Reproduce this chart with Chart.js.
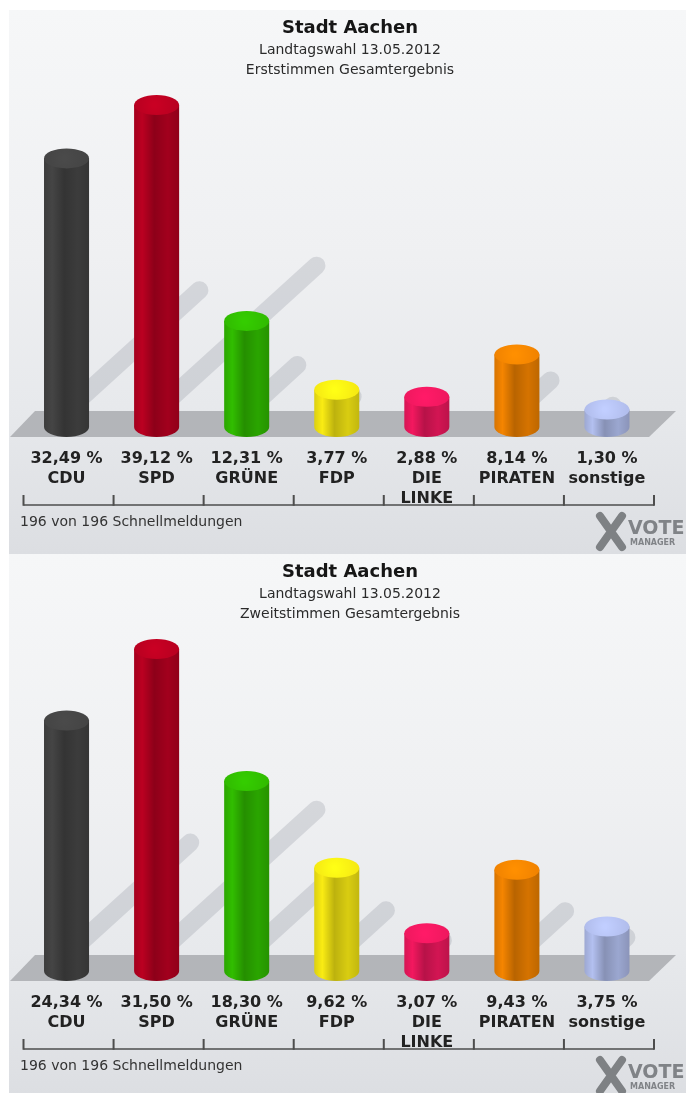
<!DOCTYPE html>
<html><head><meta charset="utf-8">
<script src="https://cdn.jsdelivr.net/npm/chart.js@4.4.0/dist/chart.umd.min.js"></script>
<style>
html,body{margin:0;padding:0;background:#fff;width:686px;height:1093px;overflow:hidden;position:relative;}
.panel{position:absolute;left:9px;width:677px;height:544px;}
#p1{top:10px}
#p2{top:554px}
canvas{display:block}
</style></head><body>
<div class="panel" id="p1"><canvas id="c1" width="677" height="544"></canvas></div>
<div class="panel" id="p2"><canvas id="c2" width="677" height="544"></canvas></div>
<script>
// ---- data ----
const parties = ['CDU', 'SPD', 'GRÜNE', 'FDP', 'DIE LINKE', 'PIRATEN', 'sonstige'];
const partyLabelLines = [['CDU'], ['SPD'], ['GRÜNE'], ['FDP'], ['DIE', 'LINKE'], ['PIRATEN'], ['sonstige']];
const erststimmen = [32.49, 39.12, 12.31, 3.77, 2.88, 8.14, 1.30];
const zweitstimmen = [24.34, 31.50, 18.30, 9.62, 3.07, 9.43, 3.75];
const partyColors = ['#414141', '#b0001f', '#2eb300', '#ecdf12', '#e5175a', '#e77d00', '#a9b5e2'];
const titleText = 'Stadt Aachen';
const subtitleLine1 = 'Landtagswahl 13.05.2012';
const subtitleLine2 = ['Erststimmen Gesamtergebnis', 'Zweitstimmen Gesamtergebnis'];
const footerText = '196 von 196 Schnellmeldungen';

Chart.defaults.font.family = '"DejaVu Sans", sans-serif';

function fmt(v) { return v.toFixed(2).replace('.', ',') + ' %'; }

function shade(hex, f) {
  const n = parseInt(hex.slice(1), 16);
  const c = [(n >> 16) & 255, (n >> 8) & 255, n & 255].map(x => Math.max(0, Math.min(255, Math.round(x * f))));
  return 'rgb(' + c.join(',') + ')';
}

function drawCylinder(ctx, cx, r, top, bottom, color) {
  const ry = 10;
  const yTop = top + ry;
  const yBot = Math.max(yTop, bottom - ry);
  const g = ctx.createLinearGradient(cx - r, 0, cx + r, 0);
  g.addColorStop(0, shade(color, 0.93));
  g.addColorStop(0.18, shade(color, 1.06));
  g.addColorStop(0.45, shade(color, 0.8));
  g.addColorStop(0.75, shade(color, 0.92));
  g.addColorStop(1, shade(color, 0.82));
  ctx.fillStyle = g;
  ctx.beginPath();
  ctx.moveTo(cx - r, yTop);
  ctx.lineTo(cx - r, yBot);
  ctx.ellipse(cx, yBot, r, ry, 0, Math.PI, 0, true);
  ctx.lineTo(cx + r, yTop);
  ctx.closePath();
  ctx.fill();
  const gt = ctx.createRadialGradient(cx - r * 0.1, yTop, 2, cx, yTop, r);
  gt.addColorStop(0, shade(color, 1.14));
  gt.addColorStop(1, shade(color, 1.04));
  ctx.fillStyle = gt;
  ctx.beginPath();
  ctx.ellipse(cx, yTop, r, ry, 0, 0, Math.PI * 2);
  ctx.fill();
}

function makeDecor(sub) {
  return {
    id: 'decor',
    beforeDraw(chart) {
      const { ctx, width, height } = chart;
      ctx.save();
      const g = ctx.createLinearGradient(0, 0, 0, height);
      g.addColorStop(0, '#f6f7f8');
      g.addColorStop(0.45, '#eff0f2');
      g.addColorStop(0.73, '#e7e9ec');
      g.addColorStop(1, '#dcdee2');
      ctx.fillStyle = g;
      ctx.fillRect(0, 0, width, height);
      // titles
      ctx.textAlign = 'center';
      ctx.textBaseline = 'middle';
      ctx.fillStyle = '#161616';
      ctx.font = 'bold 18px "DejaVu Sans"';
      ctx.fillText(titleText, 341, 18);
      ctx.fillStyle = '#2b2b2b';
      ctx.font = '14px "DejaVu Sans"';
      ctx.fillText(subtitleLine1, 341, 40);
      ctx.fillText(sub, 341, 60);
      ctx.restore();
    },
    beforeDatasetsDraw(chart) {
      const { ctx, chartArea: ca } = chart;
      const meta = chart.getDatasetMeta(0);
      const floorTop = ca.bottom + 1;
      ctx.save();
      ctx.strokeStyle = 'rgba(110,116,128,0.2)';
      ctx.lineWidth = 18;
      ctx.lineCap = 'round';
      meta.data.forEach(el => {
        const L = 0.46 * (floorTop - el.y);
        ctx.beginPath();
        ctx.moveTo(el.x, floorTop);
        ctx.lineTo(el.x + 1.1 * L, floorTop - L);
        ctx.stroke();
      });
      ctx.fillStyle = '#b3b5b9';
      ctx.beginPath();
      ctx.moveTo(ca.left + 13.5, floorTop);
      ctx.lineTo(ca.right + 24, floorTop);
      ctx.lineTo(ca.right - 3, ca.bottom + 27);
      ctx.lineTo(ca.left - 11.5, ca.bottom + 27);
      ctx.closePath();
      ctx.fill();
      ctx.restore();
    },
    afterDatasetsDraw(chart) {
      const { ctx, chartArea: ca } = chart;
      const meta = chart.getDatasetMeta(0);
      ctx.save();
      meta.data.forEach((el, i) => {
        drawCylinder(ctx, el.x, el.width / 2, el.y, ca.bottom + 27, partyColors[i]);
      });
      ctx.restore();
    },
    afterDraw(chart) {
      const { ctx, chartArea: ca } = chart;
      const xs = chart.scales.x;
      const n = parties.length;
      const step = xs.getPixelForValue(1) - xs.getPixelForValue(0);
      const y0 = ca.bottom + 95;
      ctx.save();
      ctx.strokeStyle = '#4d4d4d';
      ctx.lineWidth = 1.5;
      ctx.beginPath();
      const x0 = xs.getPixelForValue(0) - step / 2 + 2;
      ctx.moveTo(x0, y0);
      ctx.lineTo(x0 + n * step, y0);
      ctx.stroke();
      ctx.lineWidth = 2;
      ctx.beginPath();
      for (let i = 0; i <= n; i++) {
        const x = x0 + i * step;
        ctx.moveTo(x, y0 - 10);
        ctx.lineTo(x, y0 + 0.75);
      }
      ctx.stroke();
      ctx.fillStyle = '#333';
      ctx.font = '14px "DejaVu Sans"';
      ctx.textBaseline = 'middle';
      ctx.textAlign = 'left';
      ctx.fillText(footerText, 11, ca.bottom + 112);
      ctx.strokeStyle = '#7e8184';
      ctx.lineWidth = 8;
      ctx.lineCap = 'round';
      ctx.beginPath();
      ctx.moveTo(591, ca.bottom + 106); ctx.lineTo(613, ca.bottom + 137);
      ctx.moveTo(613, ca.bottom + 106); ctx.lineTo(591, ca.bottom + 137);
      ctx.stroke();
      ctx.fillStyle = '#808387';
      ctx.textBaseline = 'alphabetic';
      ctx.font = 'bold 19px "DejaVu Sans"';
      ctx.fillText('VOTE', 619, ca.bottom + 124);
      ctx.font = 'bold 8px "DejaVu Sans"';
      ctx.fillText('MANAGER', 621, ca.bottom + 135);
      ctx.restore();
    }
  };
}

function makeChart(id, values, sub) {
  return new Chart(document.getElementById(id), {
    type: 'bar',
    data: {
      labels: parties,
      datasets: [{
        data: values,
        backgroundColor: 'rgba(0,0,0,0)',
        borderWidth: 0,
        barPercentage: 0.5,
        categoryPercentage: 1
      }]
    },
    options: {
      responsive: false,
      animation: false,
      events: [],
      layout: { padding: { left: 12.5, right: 34, top: 85, bottom: 44 } },
      plugins: {
        legend: { display: false },
        tooltip: { enabled: false },
        title: { display: false },
        subtitle: { display: false }
      },
      scales: {
        y: { display: false, min: 0, max: Math.max(...values) },
        x: {
          offset: true,
          grid: { display: false },
          border: { display: false },
          afterFit(scale) { scale.height = 100; scale.paddingLeft = 0; scale.paddingRight = 0; },
          ticks: {
            padding: 31, maxRotation: 0, minRotation: 0, autoSkip: false,
            color: '#222',
            font: { size: 16, weight: 'bold', lineHeight: 1.25 },
            callback(v, i) { return [fmt(values[i])].concat(partyLabelLines[i]); }
          }
        }
      }
    },
    plugins: [makeDecor(sub)]
  });
}

makeChart('c1', erststimmen, subtitleLine2[0]);
makeChart('c2', zweitstimmen, subtitleLine2[1]);
</script>
</body></html>
